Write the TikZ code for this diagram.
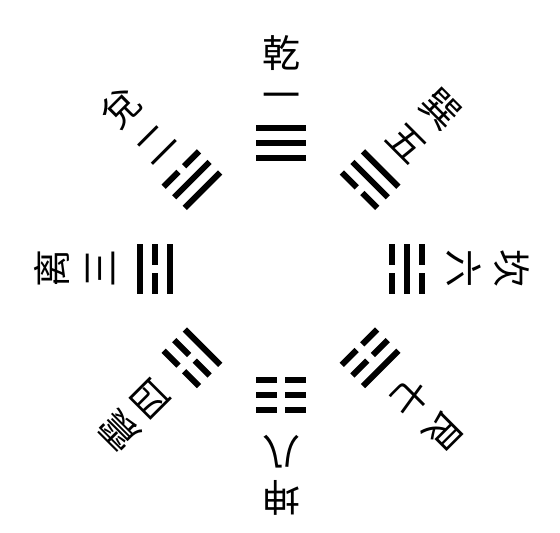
\documentclass[tikz,border=0pt]{standalone}
\usepackage{fontspec}
\newfontfamily\cjk{Noto Sans CJK TC}
\tikzset{
  lbl/.style={font=\cjk\fontsize{38}{38}\selectfont, inner sep=0pt, anchor=center},
  yao/.style={fill=black, draw=none}
}
\newcommand{\yaoline}[2]{% #1 radius, #2 type 1 solid 0 broken
  \ifnum#2=1
    \fill[yao] (-25,#1-3) rectangle (25,#1+3);
  \else
    \fill[yao] (-25,#1-3) rectangle (-4,#1+3);
    \fill[yao] (4,#1-3) rectangle (25,#1+3);
  \fi}
\begin{document}
\begin{tikzpicture}[x=1pt,y=1pt]
\fill[white] (0,0) rectangle (560,533);
\useasboundingbox (0,0) rectangle (560,533);
\coordinate (C) at (281,264.3);
\foreach \ang/\a/\b/\c/\num/\ch/\dn/\dc/\id in {
  0/1/1/1/一/乾/167/216/qian,
  -45/0/1/1/五/巽/177/226/xun,
  -90/0/1/0/六/坎/183/231/kan,
  -135/0/0/1/七/艮/182/230/gen,
  180/0/0/0/八/坤/183/229/kun,
  135/1/0/0/四/震/184/229/zhen,
  90/1/0/1/三/离/180/229/li,
  45/1/1/0/二/兌/176/227/dui}{
  \begin{scope}[shift={(C)}, rotate=\ang, transform shape]
    \yaoline{111}{\a}
    \yaoline{126}{\b}
    \yaoline{141}{\c}
    \node[lbl] (num-\id) at (0,\dn) {\num};
    \node[lbl] (ch-\id) at (0,\dc) {\ch};
  \end{scope}
}
\end{tikzpicture}
\end{document}
